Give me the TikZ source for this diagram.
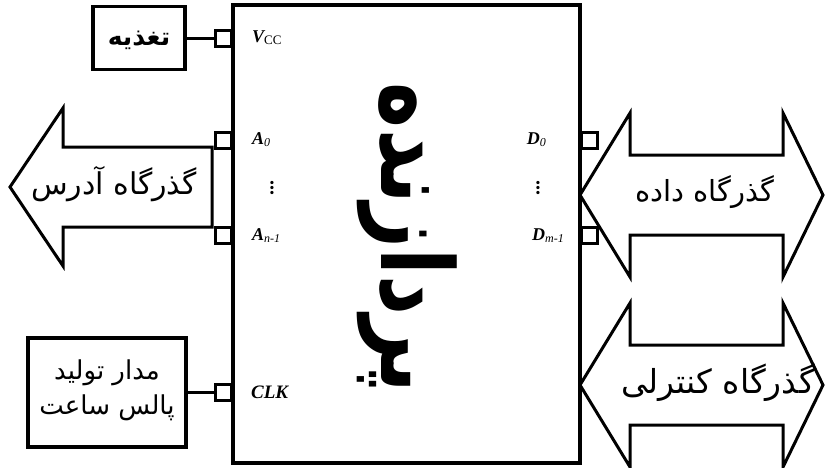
\documentclass[tikz,border=0pt]{standalone}
\usepackage{fontspec}
\usepackage{graphicx}
\setmainfont{Liberation Serif}
\newfontfamily\arabicfont[Script=Arabic]{DejaVu Sans}
\TeXXeTstate=1
\begin{document}
\begin{tikzpicture}[x=1pt,y=-1pt,
  box/.style={draw, line width=3.4pt, inner sep=0pt},
  pinbox/.style={draw, line width=3pt, minimum size=16pt, inner sep=0pt},
  wire/.style={line width=3pt},
  bus/.style={draw, line width=3pt, line join=miter},
  fa/.style={font=\arabicfont\fontsize{21}{27}\selectfont, inner sep=0pt},
  lbl/.style={font=\bfseries\itshape\fontsize{18}{20}\selectfont, inner sep=0pt},
  vdot/.style={font=\bfseries\fontsize{20}{20}\selectfont, inner sep=0pt}]
\useasboundingbox (0,0) rectangle (826,467);

% main block
\node[box, minimum width=347pt, minimum height=458pt] (cpu) at (406.5,234) {};
\node (title) at (407,238) {\rotatebox{-90}{\resizebox*{310pt}{100pt}{\arabicfont\bfseries\beginR پردازنده\endR}}};

% pins on the left
\node[pinbox, anchor=east] (pvcc) at (233,38) {};
\node[pinbox, anchor=east] (pa0) at (233,140) {};
\node[pinbox, anchor=east] (pan) at (233,235) {};
\node[pinbox, anchor=east] (pclk) at (233,392) {};
% pins on the right
\node[pinbox, anchor=west] (pd0) at (580,140) {};
\node[pinbox, anchor=west] (pdm) at (580,235) {};

% pin labels
\node[lbl, anchor=west] (lvcc) at (252,38) {V\raisebox{-2pt}{\normalfont\fontsize{13}{13}\selectfont CC}};
\node[lbl, anchor=west] (la0) at (252,140) {A\raisebox{-2pt}{\normalfont\itshape\fontsize{12}{12}\selectfont 0}};
\node[vdot] (ladots) at (272,188) {\rotatebox{90}{...}};
\node[lbl, anchor=west] (lan) at (252,236) {A\raisebox{-2pt}{\normalfont\itshape\fontsize{12}{12}\selectfont n-1}};
\node[lbl, anchor=west] (lclk) at (251,392) {\fontsize{19}{20}\selectfont CLK};
\node[lbl, anchor=east] (ld0) at (546,140) {D\raisebox{-2pt}{\normalfont\itshape\fontsize{12}{12}\selectfont 0}};
\node[vdot] (lddots) at (538,188) {\rotatebox{90}{...}};
\node[lbl, anchor=east] (ldm) at (564,236) {D\raisebox{-2pt}{\normalfont\itshape\fontsize{12}{12}\selectfont m-1}};

% external blocks
\node[box, minimum width=92pt, minimum height=63pt] (supply) at (139,38) {};
\node[fa, font=\arabicfont\bfseries\fontsize{25}{30}\selectfont] (tsupply) at (139,40) {\beginR تغذیه\endR};
\node[box, minimum width=158pt, minimum height=109pt] (clock) at (107,392.5) {};
\node[fa, align=center, font=\arabicfont\fontsize{26}{35}\selectfont] (tclock) at (107,390) {\beginR مدار تولید\endR\\\beginR پالس ساعت\endR};

\draw[wire] (supply.east) -- (pvcc.west);
\draw[wire] (clock.east |- pclk) -- (pclk.west);

% address bus (left)
\draw[bus] (212,147) -- (63,147) -- (63,108) -- (10,187) -- (63,266) -- (63,227) -- (212,227) -- cycle;
\node[fa, font=\arabicfont\fontsize{30}{34}\selectfont] (taddr) at (114,184) {\beginR گذرگاه آدرس\endR};

% data bus (right)
\draw[bus] (580,195) -- (630,113) -- (630,155) -- (783,155) -- (783,113) -- (823,195) -- (783,277) -- (783,235) -- (630,235) -- (630,277) -- cycle;
\node[fa, font=\arabicfont\fontsize{29}{32}\selectfont] (tdata) at (705,192) {\beginR گذرگاه داده\endR};

% control bus (right)
\draw[bus] (580,385) -- (630,303) -- (630,345) -- (783,345) -- (783,303) -- (823,385) -- (783,467) -- (783,425) -- (630,425) -- (630,467) -- cycle;
\node[fa, font=\arabicfont\fontsize{33}{36}\selectfont] (tctrl) at (718,383) {\beginR گذرگاه کنترلی\endR};
\end{tikzpicture}
\end{document}
